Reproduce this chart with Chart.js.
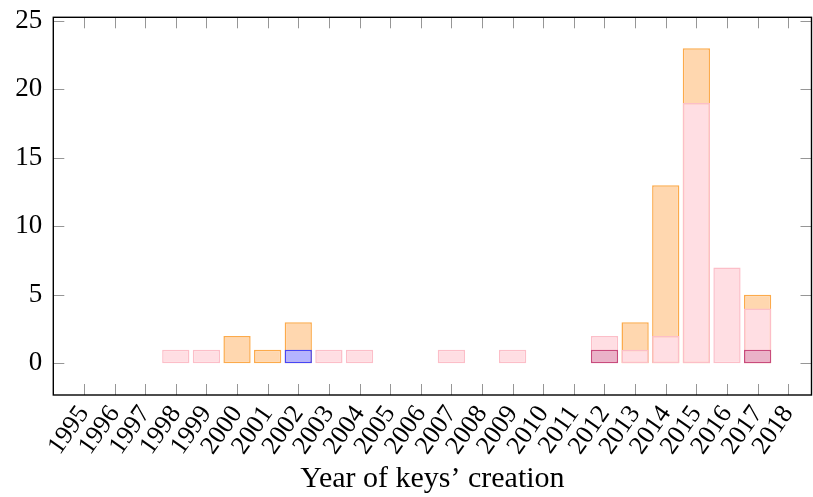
<!DOCTYPE html>
<html>
<head>
<meta charset="utf-8">
<script src="https://cdn.jsdelivr.net/npm/chart.js@4/dist/chart.umd.min.js"></script>
<style>
  html, body { margin: 0; padding: 0; background: #ffffff; }
  #wrap { width: 813px; height: 497px; }
</style>
</head>
<body>
<div id="wrap"><canvas id="chart" width="813" height="497"></canvas></div>
<script>
// Years shown on the horizontal axis
const YEARS = [1995, 1996, 1997, 1998, 1999, 2000, 2001, 2002, 2003, 2004, 2005, 2006,
               2007, 2008, 2009, 2010, 2011, 2012, 2013, 2014, 2015, 2016, 2017, 2018];

// Number of keys per year, one list per bar series (null = no bar)
const countsOrange  = [null, null, null, null, null, 2, 1, 3, null, null, null, null,
                       null, null, null, null, null, null, 3, 13, 23, null, 5, null];
const countsPink    = [null, null, null, 1, 1, null, null, null, 1, 1, null, null,
                       1, null, 1, null, null, 2, 1, 2, 19, 7, 4, null];
const countsBlue    = [null, null, null, null, null, null, null, 1, null, null, null, null,
                       null, null, null, null, null, null, null, null, null, null, null, null];
const countsMagenta = [null, null, null, null, null, null, null, null, null, null, null, null,
                       null, null, null, null, null, 1, null, null, null, null, 1, null];

const Y_TICKS = [0, 5, 10, 15, 20, 25];
const X_TITLE = 'Year of keys\u2019 creation';

const SERIF = '"Liberation Serif", "Times New Roman", serif';

// Box frame with inward tick marks on all four sides
const frameTicks = {
  id: 'frameTicks',
  afterDatasetsDraw(chart) {
    const { ctx, chartArea: a, scales: { x, y } } = chart;
    const len = 11;
    ctx.save();
    ctx.strokeStyle = 'rgb(150,150,150)';
    ctx.lineWidth = 1;
    ctx.beginPath();
    x.ticks.forEach(t => {
      const px = Math.round(x.getPixelForValue(t.value)) + 0.5;
      ctx.moveTo(px, a.bottom); ctx.lineTo(px, a.bottom - len);
      ctx.moveTo(px, a.top);    ctx.lineTo(px, a.top + len);
    });
    y.ticks.forEach(t => {
      const py = Math.round(y.getPixelForValue(t.value)) + 0.5;
      ctx.moveTo(a.left, py);  ctx.lineTo(a.left + len, py);
      ctx.moveTo(a.right, py); ctx.lineTo(a.right - len, py);
    });
    ctx.stroke();
    ctx.strokeStyle = '#000000';
    ctx.lineWidth = 1.4;
    ctx.strokeRect(a.left, a.top, a.right - a.left, a.bottom - a.top);
    ctx.restore();
  }
};

const barStyle = (fill, line) => ({
  backgroundColor: fill,
  borderColor: line,
  borderWidth: 1.5,
  borderSkipped: false,
  grouped: false,
  barPercentage: 0.89,
  categoryPercentage: 1.0
});

new Chart(document.getElementById('chart'), {
  type: 'bar',
  data: {
    labels: YEARS,
    datasets: [
      { label: 'blue',    data: countsBlue,    ...barStyle('rgb(180,180,255)', 'rgb(70,70,245)') },
      { label: 'magenta', data: countsMagenta, ...barStyle('rgb(234,178,200)', 'rgb(200,75,125)') },
      { label: 'pink',    data: countsPink,    ...barStyle('rgb(255,222,227)', 'rgb(252,190,200)') },
      { label: 'orange',  data: countsOrange,  ...barStyle('rgb(255,215,175)', 'rgb(252,170,75)') }
    ]
  },
  options: {
    responsive: false,
    animation: false,
    layout: { padding: { top: 17.3, right: 1.5, left: 0, bottom: 0 } },
    plugins: {
      legend: { display: false },
      tooltip: { enabled: false }
    },
    scales: {
      x: {
        type: 'linear',
        offset: false,
        min: 1994,
        max: 2018.76,
        grid: { display: false, drawTicks: false },
        border: { display: false },
        afterBuildTicks: s => { s.ticks = YEARS.map(v => ({ value: v })); },
        afterFit: s => { s.height = 102; s.paddingLeft = 0; s.paddingRight = 0; },
        ticks: {
          autoSkip: false,
          minRotation: 55,
          maxRotation: 55,
          padding: 5,
          color: '#000000',
          font: { family: SERIF, size: 26 },
          callback: v => String(v)
        },
        title: {
          display: true,
          text: X_TITLE,
          color: '#000000',
          font: { family: SERIF, size: 30 },
          padding: { top: 0, bottom: 0 }
        }
      },
      y: {
        min: -2.31,
        max: 25.25,
        grid: { display: false, drawTicks: false },
        border: { display: false },
        afterBuildTicks: s => { s.ticks = Y_TICKS.map(v => ({ value: v })); },
        afterFit: s => { s.width = 53.3; s.paddingTop = 0; s.paddingBottom = 0; },
        ticks: {
          padding: 11,
          color: '#000000',
          font: { family: SERIF, size: 27 },
          callback: v => String(v)
        }
      }
    }
  },
  plugins: [frameTicks]
});
</script>
</body>
</html>
